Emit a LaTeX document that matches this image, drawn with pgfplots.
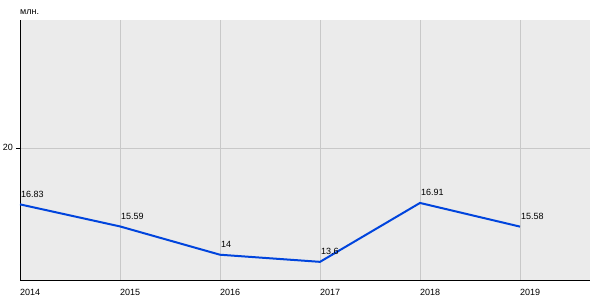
\documentclass[border=0pt]{standalone}
\usepackage{fontspec}
\setmainfont{Liberation Sans}
\usepackage{pgfplots}
\pgfplotsset{compat=1.18}
\definecolor{bgc}{HTML}{EBEBEB}
\definecolor{gridc}{HTML}{C8C8C8}
\definecolor{linec}{HTML}{0044DD}
\begin{document}
\fontsize{9pt}{11pt}\selectfont
\begin{tikzpicture}
\begin{axis}[
  scale only axis,
  width=570pt, height=260pt,
  xmin=2014, xmax=2019.7,
  ymin=12.58, ymax=27.19,
  axis background/.style={fill=bgc},
  axis x line*=bottom, axis y line*=left,
  axis line style={black, line width=1pt, -},
  xtick={2014,2015,2016,2017,2018,2019},
  ytick={20},
  xmajorgrids, ymajorgrids,
  grid style={gridc, line width=0.8pt},
  xtick style={draw=none},
  ytick style={black, line width=0.8pt},
  tick align=outside,
  major tick length=4pt,
  /pgf/number format/assume math mode=true,
  xticklabel={\pgfmathprintnumber[1000 sep={}, precision=0, fixed]{\tick}},
  xticklabel style={font=\fontsize{9pt}{11pt}\selectfont, anchor=north west, inner sep=0pt, yshift=-5pt},
  yticklabel style={font=\fontsize{9pt}{11pt}\selectfont, inner sep=0pt, xshift=-3pt, yshift=1pt},
  clip=false,
]
\addplot[linec, line width=2pt, no markers,
  nodes near coords,
  point meta=explicit symbolic,
  every node near coord/.style={font=\fontsize{9pt}{11pt}\selectfont, anchor=south west, inner sep=0pt, yshift=6pt, text=black},
] table[meta=label] {
x y label
2014 16.83 16.83
2015 15.59 15.59
2016 14 14
2017 13.6 13.6
2018 16.91 16.91
2019 15.58 15.58
};
\node[anchor=south west, inner sep=0pt, font=\fontsize{9pt}{11pt}\selectfont] at (rel axis cs:0,1) [yshift=5pt] {млн.};
\end{axis}
\path[use as bounding box] (-20pt,-20pt) rectangle (580pt,280pt);
\end{tikzpicture}
\end{document}
